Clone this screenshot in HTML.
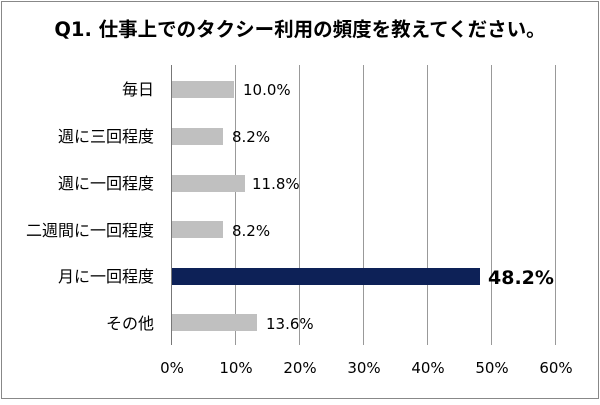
<!DOCTYPE html>
<html><head><meta charset="utf-8"><style>
body{margin:0;background:#fff}
svg text{font-family:"DejaVu Sans","Noto Sans CJK JP",sans-serif}
</style></head><body>
<svg width="600" height="400" xmlns="http://www.w3.org/2000/svg">
<rect x="1.5" y="1.5" width="597" height="397" fill="#fff" stroke="#888" stroke-width="1"/>
<text x="300" y="36" text-anchor="middle" font-size="19.5" font-weight="bold" fill="#000">Q1. 仕事上でのタクシー利用の頻度を教えてください。</text>
<g stroke="#999" stroke-width="1">
<line x1="235.5" y1="65" x2="235.5" y2="345"/>
<line x1="299.5" y1="65" x2="299.5" y2="345"/>
<line x1="363.5" y1="65" x2="363.5" y2="345"/>
<line x1="427.5" y1="65" x2="427.5" y2="345"/>
<line x1="491.5" y1="65" x2="491.5" y2="345"/>
<line x1="555.5" y1="65" x2="555.5" y2="345"/>
<line x1="171.5" y1="65" x2="171.5" y2="345" stroke="#777"/>
</g>
<g fill="#c0c0c0">
<rect x="172" y="81" width="62" height="17"/>
<rect x="172" y="128" width="51" height="17"/>
<rect x="172" y="175" width="73" height="17"/>
<rect x="172" y="221" width="51" height="17"/>
<rect x="172" y="314" width="85" height="17"/>
</g>
<rect x="172" y="268" width="308" height="17" fill="#0d2157"/>
<g font-size="15" fill="#000">
<text x="243" y="95">10.0%</text>
<text x="232" y="142">8.2%</text>
<text x="252" y="189">11.8%</text>
<text x="232" y="236">8.2%</text>
<text x="266" y="329">13.6%</text>
<text x="488" y="284" font-size="19" font-weight="bold">48.2%</text>
</g>
<g font-size="16" fill="#000" text-anchor="end">
<text x="154" y="95">毎日</text>
<text x="154" y="142">週に三回程度</text>
<text x="154" y="189">週に一回程度</text>
<text x="154" y="236">二週間に一回程度</text>
<text x="154" y="282">月に一回程度</text>
<text x="154" y="329">その他</text>
</g>
<g font-size="15" fill="#000" text-anchor="middle">
<text x="172" y="373">0%</text>
<text x="236" y="373">10%</text>
<text x="300" y="373">20%</text>
<text x="364" y="373">30%</text>
<text x="428" y="373">40%</text>
<text x="492" y="373">50%</text>
<text x="556" y="373">60%</text>
</g>
</svg>
</body></html>
